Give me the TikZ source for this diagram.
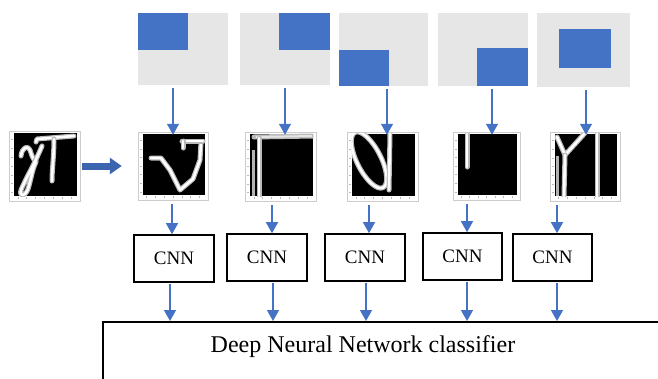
\documentclass[tikz,border=0pt]{standalone}
\usepackage{fontspec}
\setmainfont{Liberation Serif}
\usetikzlibrary{arrows.meta,calc}
\definecolor{obl}{HTML}{4472C4}
\definecolor{pgray}{HTML}{E7E6E6}
\definecolor{dbl}{HTML}{3D65AF}
\newcommand\hw[1]{\draw[glow] #1; \draw[ink] #1;}
\newcommand\tileticks[1]{%
  \foreach \k in {1,...,7}{%
    \draw[gray!55,line width=0.3pt] ($(#1.north west)!{\k/8}!(#1.south west)$) ++(2,0) -- ++(2,0);
    \draw[gray!55,line width=0.3pt] ($(#1.south west)!{\k/8}!(#1.south east)$) ++(0,-2) -- ++(0,-2);
  }}
\begin{document}
\begin{tikzpicture}[x=1pt,y=-1pt,
  panel/.style={fill=pgray, draw=none, inner sep=0pt},
  tile/.style={draw=gray!40, fill=white, line width=0.5pt, minimum width=70pt, minimum height=68pt, inner sep=0pt},
  cnn/.style={draw=black, line width=1.6pt, minimum width=80pt, minimum height=47pt, inner sep=0pt, font=\fontsize{19}{19}\selectfont},
  arr/.style={draw=obl, line width=1.4pt, -{Triangle[width=12pt,length=11pt]}},
  bigarr/.style={draw=dbl, line width=7pt, -{Triangle[width=16pt,length=12pt]}},
  glow/.style={line width=5pt, draw=gray!55, line cap=round, line join=round},
  ink/.style={line width=2.6pt, draw=white, line cap=round, line join=round}]
\useasboundingbox (0,0) rectangle (658,378);
\clip (0,0) rectangle (658,378);

% top panels
\node[panel, minimum width=90pt, minimum height=72pt] (p1) at (183,49) {};
\node[panel, minimum width=90pt, minimum height=72pt] (p2) at (285,49) {};
\node[panel, minimum width=89pt, minimum height=73pt] (p3) at (383.5,49.5) {};
\node[panel, minimum width=90pt, minimum height=73pt] (p4) at (483,49.5) {};
\node[panel, minimum width=93pt, minimum height=74pt] (p5) at (583.5,50) {};
\fill[obl] (138,13) rectangle (188,50);
\fill[obl] (279,13) rectangle (330,50);
\fill[obl] (339,50) rectangle (389,86);
\fill[obl] (477,48) rectangle (528,86);
\fill[obl] (559,29) rectangle (611,68);

% tiles
\node[tile, minimum width=71pt, minimum height=70pt] (t0) at (44.5,166) {};
\node[tile] (t1) at (173,166) {};
\node[tile, minimum width=71pt, minimum height=69pt] (t2) at (280.5,166.5) {};
\node[tile, minimum width=71pt, minimum height=69pt] (t3) at (382.5,166.5) {};
\node[tile, minimum width=67pt] (t4) at (486.5,166) {};
\node[tile, minimum height=69pt] (t5) at (585,166.5) {};
\foreach \t in {t0,t1,t2,t3,t4,t5}{
  \fill[black] ([shift={(5,2)}]\t.north west) rectangle ([shift={(-3,-5)}]\t.south east);
  \tileticks{\t}
}

% strokes tile 0
\begin{scope}
\clip ([shift={(5,2)}]t0.north west) rectangle ([shift={(-3,-5)}]t0.south east);
\hw{(36,142) -- (37,139) -- (74,136)}
\hw{(54,139) .. controls (54,155) and (52,170) .. (52,181)}
\hw{(21,156) .. controls (22,147) and (28,145) .. (30,150) .. controls (32,156) and (33,160) .. (36,161)}
\hw{(42,146) .. controls (35,163) and (25,180) .. (21,190) .. controls (19,197) and (25,197) .. (28,189) .. controls (31,180) and (32,170) .. (36,162)}
\end{scope}
% tile 1
\begin{scope}
\clip ([shift={(5,2)}]t1.north west) rectangle ([shift={(-3,-5)}]t1.south east);
\hw{(151,158) -- (161,158) -- (170,170) -- (180,190) -- (193,179) -- (200,160) -- (201,142)}
\hw{(182,141) -- (203,141)}
\hw{(183,141) -- (183,148)}
\end{scope}
% tile 2
\begin{scope}
\clip ([shift={(5,2)}]t2.north west) rectangle ([shift={(-3,-5)}]t2.south east);
\draw[glow] (254,137) -- (314,136);
\draw[line width=2pt, draw=gray!20] (256,137) -- (312,136);
\hw{(259,138) -- (259,196)}
\draw[line width=3pt, draw=gray!60] (253,150) -- (253,196);
\end{scope}
% tile 3
\begin{scope}
\clip ([shift={(5,2)}]t3.north west) rectangle ([shift={(-3,-5)}]t3.south east);
\hw{[rotate around={-63:(369,160)}] (369,160) ellipse [x radius=31, y radius=12]}
\hw{(390,133) -- (389,190)}
\end{scope}
% tile 4
\begin{scope}
\clip ([shift={(5,2)}]t4.north west) rectangle ([shift={(-3,-5)}]t4.south east);
\hw{(467,134) -- (467,167)}
\end{scope}
% tile 5
\begin{scope}
\clip ([shift={(5,2)}]t5.north west) rectangle ([shift={(-3,-5)}]t5.south east);
\draw[line width=3pt, draw=gray!60] (557,156) -- (557,196);
\hw{(557,137) -- (565,155) -- (585,133)}
\hw{(565,155) -- (564,196)}
\hw{(597,133) -- (597,197)}
\end{scope}

% CNN boxes
\node[cnn] (c1) at (174,258.5) {CNN};
\node[cnn] (c2) at (267,257.5) {CNN};
\node[cnn] (c3) at (365,257.5) {CNN};
\node[cnn, minimum width=79pt] (c4) at (462.5,256.5) {CNN};
\node[cnn, minimum width=79pt] (c5) at (552.5,257.5) {CNN};

% classifier box
\node[draw=black, line width=1.6pt, minimum width=700pt, minimum height=80pt, inner sep=0pt, anchor=north west] (dnn) at (102,321) {};
\node[font=\fontsize{24}{24}\selectfont, inner sep=0pt] (dnnlab) at (363,347) {Deep Neural Network classifier};

% big arrow
\draw[bigarr, shorten <=2pt, shorten >=16pt] (t0.east) -- (t1.west);

% panel -> tile arrows
\foreach \i/\d in {1/-10, 2/0, 3/3.5, 4/9, 5/2.5}{
  \draw[arr, shorten <=3pt, shorten >=-3pt] ([xshift=\d pt]p\i.south) -- ([xshift=\d pt]p\i.south |- t\i.north);
}
% tile -> CNN arrows
\foreach \i/\d in {1/-2, 2/5, 3/4, 4/4.5, 5/4.5}{
  \draw[arr, shorten <=4pt] ([xshift=\d pt]c\i.north |- t\i.south) -- ([xshift=\d pt]c\i.north);
}
% CNN -> classifier arrows
\foreach \i/\d in {1/-4, 2/6, 3/1, 4/4.5, 5/4.5}{
  \draw[arr, shorten <=1pt] ([xshift=\d pt]c\i.south) -- ([xshift=\d pt]c\i.south |- dnn.north);
}
\end{tikzpicture}
\end{document}
